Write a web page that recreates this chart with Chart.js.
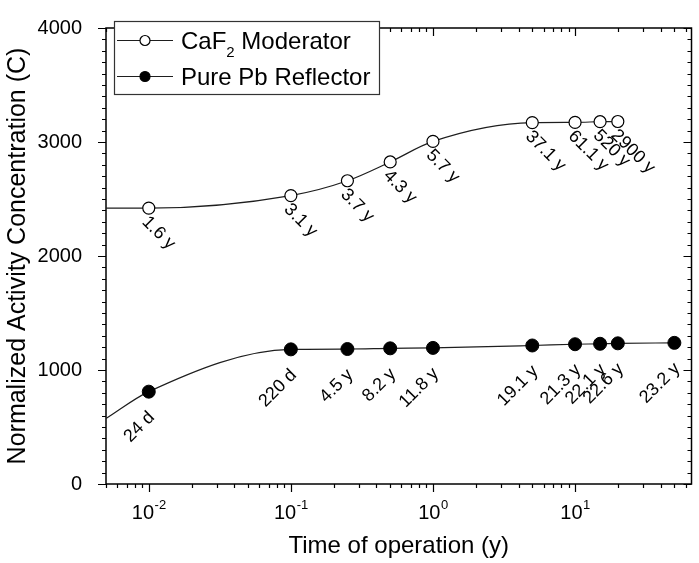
<!DOCTYPE html>
<html><head><meta charset="utf-8">
<script src="https://cdn.jsdelivr.net/npm/chart.js@4"></script>
<style>html,body{margin:0;padding:0;background:#fff;overflow:hidden}</style>
</head><body><canvas id="c" width="699" height="563"></canvas>
<script>
const FONT = "'Liberation Sans', Arial, sans-serif";

// ---- data ----
const xAxisMin = 0.005;
const xAxisMax = 66;
const yAxisMin = 0;
const yAxisMax = 4000;
const xTickExponents = [-2, -1, 0, 1];

const caf2Name = "CaF2 Moderator";
const caf2Times = [0.01, 0.1, 0.25, 0.5, 1, 5, 10, 15, 20];
const caf2Values = [2420, 2530, 2660, 2825, 3005, 3170, 3172, 3178, 3180];
const caf2Labels = ["1.6 y", "3.1 y", "3.7 y", "4.3 y", "5.7 y", "37.1 y", "61.1 y", "520 y", "2900 y"];
const caf2CurveAtLeftEdge = 2420;

const pbName = "Pure Pb Reflector";
const pbTimes = [0.01, 0.1, 0.25, 0.5, 1, 5, 10, 15, 20, 50];
const pbValues = [810, 1181, 1184, 1190, 1194, 1215, 1226, 1230, 1234, 1238];
const pbLabels = ["24 d", "220 d", "4.5 y", "8.2 y", "11.8 y", "19.1 y", "21.3 y", "22.1 y", "22.6 y", "23.2 y"];
const pbCurveAtLeftEdge = 574;

// ---- build datasets ----
const toPts = (xs, ys) => xs.map((x, i) => ({x: x, y: ys[i]}));
const caf2Points = toPts(caf2Times, caf2Values);
const pbPoints = toPts(pbTimes, pbValues);
const caf2Curve = [{x: xAxisMin, y: caf2CurveAtLeftEdge}].concat(caf2Points);
const pbCurve = [{x: xAxisMin, y: pbCurveAtLeftEdge}].concat(pbPoints);

const LINE = '#1e1e1e';

const decorPlugin = {
  id: 'decor',
  beforeDatasetsDraw(chart) {
    const ctx = chart.ctx, a = chart.chartArea;
    const xs = chart.scales.x, ys = chart.scales.y;
    ctx.save();
    ctx.strokeStyle = '#000';
    ctx.lineWidth = 1.2;
    // y ticks
    for (let v = yAxisMin; v <= yAxisMax; v += 100) {
      const y = Math.round(ys.getPixelForValue(v)) + 0.5;
      const major = v % 1000 === 0;
      const L = major ? 8 : 4;
      ctx.beginPath();
      ctx.moveTo(a.left - L, y); ctx.lineTo(a.left, y);
      ctx.moveTo(a.right, y); ctx.lineTo(a.right - L, y);
      ctx.stroke();
    }
    // x ticks (log)
    for (let e = -3; e <= 2; e++) {
      for (let m = 1; m <= 9; m++) {
        const v = m * Math.pow(10, e);
        if (v < xAxisMin - 1e-12 || v > xAxisMax) continue;
        const x = Math.round(xs.getPixelForValue(v)) + 0.5;
        const L = m === 1 ? 8 : 4;
        ctx.beginPath();
        ctx.moveTo(x, a.bottom); ctx.lineTo(x, a.bottom + L);
        ctx.moveTo(x, a.top); ctx.lineTo(x, a.top + L);
        ctx.stroke();
      }
    }
    // frame
    ctx.lineWidth = 1.5;
    ctx.strokeRect(a.left, a.top, a.right - a.left, a.bottom - a.top);
    // x tick labels with superscript exponent
    ctx.fillStyle = '#000';
    ctx.textBaseline = 'alphabetic';
    ctx.textAlign = 'left';
    xTickExponents.forEach(e => {
      const px = xs.getPixelForValue(Math.pow(10, e));
      const base = '10', exp = String(e);
      ctx.font = '20px ' + FONT;
      const w1 = ctx.measureText(base).width;
      ctx.font = '13px ' + FONT;
      const w2 = ctx.measureText(exp).width;
      const x0 = px - (w1 + w2) / 2;
      ctx.font = '20px ' + FONT;
      ctx.fillText(base, x0, a.bottom + 35);
      ctx.font = '13px ' + FONT;
      ctx.fillText(exp, x0 + w1 + 0.5, a.bottom + 25);
    });
    ctx.restore();
  },
  afterDatasetsDraw(chart) {
    const ctx = chart.ctx;
    ctx.save();
    ctx.fillStyle = '#000';
    ctx.font = '18px ' + FONT;
    ctx.textBaseline = 'middle';
    // CaF2 labels: below-right, rotated +45
    chart.getDatasetMeta(0).data.forEach((el, i) => {
      ctx.save();
      ctx.translate(el.x - 4, el.y + 11);
      ctx.rotate(Math.PI / 4);
      ctx.textAlign = 'left';
      ctx.fillText(caf2Labels[i], 0, 0);
      ctx.restore();
    });
    // Pb labels: below, rotated -45, ending near the point
    chart.getDatasetMeta(1).data.forEach((el, i) => {
      ctx.save();
      ctx.translate(el.x + 3, el.y + 23);
      ctx.rotate(-Math.PI / 4);
      ctx.textAlign = 'right';
      ctx.fillText(pbLabels[i], 0, 0);
      ctx.restore();
    });
    // legend box
    const bx = 114, by = 21, bw = 265, bh = 73;
    ctx.fillStyle = '#fff';
    ctx.fillRect(bx, by, bw, bh);
    ctx.strokeStyle = '#333';
    ctx.lineWidth = 1.2;
    ctx.strokeRect(bx + 0.5, by + 0.5, bw, bh);
    const rows = [
      {y: 40, fill: '#fff', parts: [['CaF', 24, 0], ['2', 15, 8], [' Moderator', 24, 0]]},
      {y: 76, fill: '#000', parts: [[pbName, 24, 0]]}
    ];
    rows.forEach(r => {
      ctx.strokeStyle = LINE;
      ctx.lineWidth = 1.2;
      ctx.beginPath(); ctx.moveTo(117, r.y + 0.5); ctx.lineTo(173, r.y + 0.5); ctx.stroke();
      ctx.beginPath(); ctx.arc(145, r.y + 0.5, 5, 0, Math.PI * 2);
      ctx.fillStyle = r.fill; ctx.fill();
      ctx.strokeStyle = '#000'; ctx.stroke();
      ctx.fillStyle = '#000';
      ctx.textAlign = 'left';
      ctx.textBaseline = 'alphabetic';
      let x = 181;
      r.parts.forEach(p => {
        ctx.font = p[1] + 'px ' + FONT;
        ctx.fillText(p[0], x, r.y + 9 + p[2]);
        x += ctx.measureText(p[0]).width;
      });
    });
    ctx.restore();
  }
};

new Chart(document.getElementById('c'), {
  type: 'scatter',
  data: {
    datasets: [
      {label: caf2Name, data: caf2Points, showLine: false, pointRadius: 6, pointHoverRadius: 6,
       pointBackgroundColor: '#fff', pointBorderColor: '#000', pointBorderWidth: 1.2, order: 0},
      {label: pbName, data: pbPoints, showLine: false, pointRadius: 6.5, pointHoverRadius: 6.5,
       pointBackgroundColor: '#000', pointBorderColor: '#000', pointBorderWidth: 1, order: 0},
      {label: caf2Name + ' curve', data: caf2Curve, showLine: true, pointRadius: 0, borderColor: LINE,
       borderWidth: 1.2, cubicInterpolationMode: 'monotone', order: 1},
      {label: pbName + ' curve', data: pbCurve, showLine: true, pointRadius: 0, borderColor: LINE,
       borderWidth: 1.2, cubicInterpolationMode: 'monotone', order: 1}
    ]
  },
  options: {
    responsive: false,
    animation: false,
    devicePixelRatio: 1,
    events: [],
    layout: {padding: {left: 0, right: 4, top: 10, bottom: 0}},
    plugins: {legend: {display: false}, tooltip: {enabled: false}},
    scales: {
      x: {
        type: 'logarithmic', min: xAxisMin, max: xAxisMax, position: 'bottom',
        grid: {display: false}, border: {display: false}, ticks: {display: false},
        title: {display: true, text: 'Time of operation (y)', color: '#000',
                font: {family: FONT, size: 24}, padding: {top: 0, bottom: 2}},
        afterFit(s) { s.height = 79; }
      },
      y: {
        type: 'linear', min: yAxisMin, max: yAxisMax, position: 'left',
        grid: {display: false}, border: {display: false},
        ticks: {stepSize: 1000, color: '#000', font: {family: FONT, size: 20}, padding: 16,
                callback: v => String(v)},
        title: {display: true, text: 'Normalized Activity Concentration (C)', color: '#000',
                font: {family: FONT, size: 25}, padding: {top: 3, bottom: 0}},
        afterFit(s) { s.width = 106; }
      }
    }
  },
  plugins: [decorPlugin]
});
</script>
</body></html>
